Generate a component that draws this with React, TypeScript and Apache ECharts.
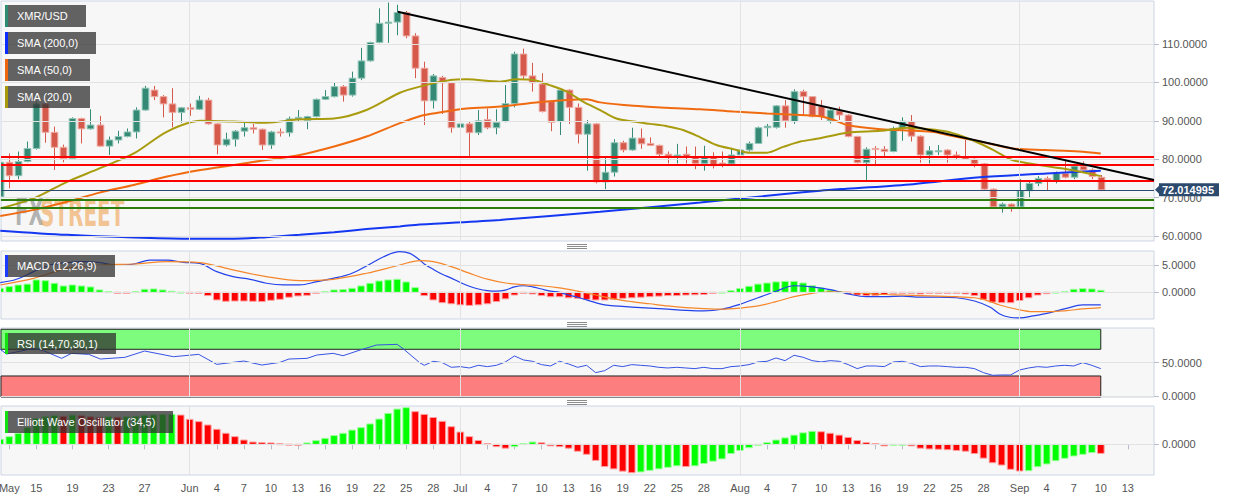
import React, { useEffect, useRef } from 'react';
import * as echarts from 'echarts';

// ---------- DATA (day index 0 = May 11) ----------
const OPEN = [70.2,79.2,75.7,79.4,82.8,94.4,87.0,83.1,80.2,90.6,87.9,88.9,83.4,85.0,85.9,87.1,92.8,98.0,96.3,94.4,92.2,93.4,93.0,95.4,89.2,83.7,85.2,87.3,88.2,87.8,83.7,87.1,86.9,90.5,90.1,91.1,95.6,96.3,98.9,96.7,101.1,105.6,110.4,115.4,115.7,118.2,112.1,103.7,95.2,101.3,99.9,88.3,89.2,86.9,90.3,88.2,89.8,94.5,107.4,101.7,99.6,95.0,89.8,98.0,93.5,86.5,89.2,74.1,76.6,84.3,82.4,85.5,84.1,83.6,81.3,80.9,81.3,80.7,78.9,80.7,79.0,78.8,81.1,82.4,84.1,88.2,88.3,93.9,89.8,97.6,96.3,93.7,90.0,92.6,91.5,85.9,79.1,82.8,82.6,82.0,88.0,89.8,86.0,81.1,82.0,82.4,81.1,80.5,80.0,78.8,72.2,67.6,68.3,67.6,71.8,73.7,75.0,74.4,76.3,75.3,78.2,77.2,75.3];
const HIGH = [79.5,81.5,82.0,84.6,95.0,95.0,88.5,83.8,90.9,90.8,93.0,91.3,85.9,87.4,88.0,93.5,99.1,99.1,96.7,98.5,93.6,94.5,96.5,96.0,89.4,86.9,87.6,89.5,89.2,88.0,87.4,88.0,91.1,92.8,91.3,95.8,98.0,100.0,99.3,102.8,109.0,110.6,119.3,120.8,120.2,118.6,112.8,105.4,102.2,101.7,100.0,95.2,89.7,92.8,93.2,93.0,99.3,108.0,108.8,105.1,102.4,95.2,98.5,98.2,94.5,90.2,89.4,80.5,85.2,84.8,88.2,88.0,85.7,83.8,82.0,84.0,83.3,83.3,83.5,81.8,82.0,82.8,83.0,84.6,88.5,89.2,94.1,95.4,98.2,98.1,96.4,95.4,93.2,93.7,91.7,86.1,83.1,83.4,83.4,88.5,90.9,91.5,86.2,83.4,83.7,82.6,82.0,85.0,80.2,79.0,72.4,68.7,68.5,74.8,74.4,75.6,75.5,76.8,79.8,78.8,79.4,77.6,75.9];
const LOW = [69.8,72.4,74.8,79.2,82.5,84.3,77.2,79.2,79.8,84.1,87.7,83.3,81.1,84.1,85.7,85.4,92.6,95.4,90.9,88.3,89.5,91.3,92.8,89.0,81.3,83.3,83.3,85.9,86.7,82.4,82.7,85.9,85.9,89.8,87.8,90.9,95.4,96.1,95.0,96.3,100.6,105.4,110.2,110.3,112.3,111.5,101.1,88.9,93.2,91.8,86.9,85.0,80.5,86.3,87.8,86.5,89.6,93.5,100.8,97.6,92.2,87.3,86.3,89.2,84.1,77.0,73.7,72.2,75.5,81.8,82.2,82.7,83.4,80.3,78.9,78.9,78.9,77.4,77.0,77.6,77.9,78.5,80.0,82.0,84.0,85.9,88.0,88.2,89.2,91.5,90.9,90.2,89.3,90.2,85.7,78.9,74.6,78.2,80.8,81.8,84.8,84.6,79.1,78.9,81.1,79.1,79.8,79.8,77.9,72.0,67.5,66.1,66.3,67.5,70.1,73.0,71.8,73.7,75.0,74.8,77.0,74.8,71.7];
const CLOSE = [79.2,75.7,79.4,82.8,94.4,87.0,83.1,80.2,90.6,87.9,88.9,83.4,85.0,85.9,87.1,92.8,98.5,96.3,94.4,92.2,93.4,93.0,95.4,89.2,83.7,85.2,87.3,88.2,87.8,83.7,87.1,86.9,90.5,90.9,91.1,95.6,96.3,98.9,96.7,101.1,105.6,110.4,115.4,115.7,118.2,112.1,103.7,95.2,101.7,99.9,88.2,89.2,86.9,90.0,88.2,89.6,94.5,107.4,101.7,99.9,92.4,89.6,98.0,93.5,86.5,89.2,74.1,76.6,84.3,82.4,85.5,84.0,83.6,81.3,80.8,81.1,80.7,78.9,80.7,78.3,78.6,81.1,82.4,84.1,88.2,88.6,93.9,90.0,97.6,96.3,91.1,91.1,92.8,91.5,85.9,79.1,82.6,82.5,82.0,88.0,89.9,86.0,81.1,82.2,82.2,81.1,80.5,80.0,78.8,72.2,67.6,68.3,67.6,71.8,73.7,75.0,74.6,76.3,75.3,78.2,77.2,75.5,72.014995];

const SMA20 = [[0,67.2],[3.7,69.8],[7.4,74.1],[11,77.6],[14.8,81.5],[18.5,87.2],[22.2,90.0],[25.9,89.8],[29.5,89.5],[33.2,90.4],[37,90.6],[40.6,92.8],[44.3,97.3],[46.5,98.9],[49.9,100.6],[51.7,100.8],[55.4,100.2],[57.2,100.8],[59.1,100.6],[60.9,99.3],[62.8,97.6],[64.6,95.0],[66.5,92.8],[68.3,90.6],[70.2,89.8],[72,89.2],[73.9,88.6],[75.7,87.6],[77.6,85.7],[79.4,83.7],[81.3,82.6],[83.1,81.7],[85,81.7],[86.8,83.2],[88.7,84.6],[90.5,85.3],[93.9,86.9],[97.6,87.4],[100.5,88.2],[103,87.8],[104.9,87.2],[106.7,85.9],[108.6,84.1],[110.4,82.0],[112.2,79.8],[114.1,78.9],[115.9,78.2],[117.8,77.6],[119.6,76.8],[122,75.6]];
const SMA50 = [[0,65.2],[3.7,66.8],[7.4,68.9],[11,71.3],[14.8,73.3],[18.5,75.5],[22.2,77.2],[25.9,78.5],[29.5,79.8],[33.2,81.1],[37,83.3],[40.6,85.9],[44.3,89.4],[46.5,91.2],[48,91.9],[51.7,93.2],[55.4,93.7],[59.1,94.7],[62.8,95.4],[65,95.6],[66.5,94.8],[70.2,93.9],[73.9,93.4],[77.6,93.0],[81.3,92.4],[85,91.9],[88.7,91.5],[90.9,91.2],[92.4,90.2],[93.9,88.9],[97.6,87.8],[101.3,87.4],[103.5,87.1],[105,86.3],[108.6,84.6],[112.2,82.8],[115.9,82.4],[119.6,82.0],[122,81.5]];
const SMA200 = [[0,61.4],[7.4,60.3],[14.8,59.6],[20.7,59.3],[25.9,59.3],[29.5,59.7],[33.2,60.3],[37,61.0],[40.6,61.8],[44.3,62.5],[46.5,63.0],[55.4,64.2],[66.5,66.3],[77.6,68.7],[86.4,70.8],[90.9,71.8],[93.8,72.3],[101.2,73.5],[108.6,75.3],[116,76.3],[122,77.0]];
const TREND = [[44.06,118.4],[127.9,74.58]];
const RESISTANCE = [80.66,78.58,74.41];
const SUPPORT = [69.46,67.38];

const MACD_HIST = [0.73,1.04,1.34,1.5,2.26,2.13,1.65,1.16,1.34,1.16,0.98,0.43,0.12,-0.02,-0.06,0.12,0.55,0.61,0.43,0.18,0.03,-0.1,-0.12,-0.6,-1.4,-1.65,-1.6,-1.6,-1.65,-1.7,-1.46,-1.28,-0.9,-0.67,-0.55,-0.06,0.12,0.43,0.49,0.73,1.16,1.65,2.07,2.26,2.38,1.89,0.85,-0.6,-1.4,-1.9,-2.1,-2.3,-2.4,-2.3,-2.1,-1.7,-1.2,-0.5,-0.2,-0.3,-0.6,-0.8,-0.8,-1.0,-1.1,-1.3,-1.4,-1.4,-1.3,-1.1,-1.0,-0.9,-0.8,-0.7,-0.6,-0.6,-0.5,-0.45,-0.4,-0.2,0.02,0.3,0.7,1.1,1.5,1.7,1.9,2.0,2.0,1.7,1.2,0.8,0.4,0.1,-0.3,-0.5,-0.6,-0.6,-0.4,-0.2,-0.2,-0.2,-0.3,-0.2,-0.2,-0.2,-0.2,-0.3,-0.6,-1.3,-1.8,-1.9,-1.9,-1.5,-1.0,-0.5,-0.25,0.03,0.12,0.55,0.67,0.61,0.37];
const MACD_LINE = [[0,1.77],[1.8,2.38],[3.7,3.78],[5.5,5.0],[7.4,5.43],[9.2,5.6],[11.1,5.43],[12.9,5.0],[14.8,5.18],[16.6,5.9],[18.5,5.9],[20.3,5.49],[22.1,5.3],[24,3.78],[25.8,2.87],[27.7,2.38],[29.5,1.65],[31.4,1.34],[33.2,1.34],[35.1,1.95],[36.9,2.56],[38.8,3.35],[40.6,4.82],[42.5,6.52],[44.3,7.44],[45.4,7.13],[46.5,5.9],[47,5.2],[48,4.2],[49,3.3],[50,2.6],[51,1.8],[52,1.1],[53,0.6],[54,0.3],[55,0.2],[56,0.4],[57,1.0],[58,1.2],[59,1.0],[60,0.6],[61,0.2],[62,0.0],[63,-0.5],[64,-0.9],[65,-1.4],[66,-1.9],[67,-2.3],[68,-2.5],[70,-2.7],[72,-2.9],[74,-3.1],[76,-3.3],[78,-3.4],[80,-3.1],[82,-2.2],[84,-1.0],[86,0.2],[88,1.2],[90,1.0],[92,0.5],[94,-0.3],[96,-0.8],[98,-0.8],[100,-0.7],[102,-0.9],[104,-0.9],[106,-1.0],[108,-1.6],[109.7,-2.7],[110.8,-3.96],[111.9,-4.57],[113,-4.7],[114.5,-4.33],[116.4,-3.72],[118.2,-2.93],[120,-2.32],[122,-2.32]];
const MACD_SIGNAL = [[0,1.34],[3.7,2.56],[7.4,4.39],[11.1,5.0],[14.8,5.18],[18.5,5.6],[22.1,5.43],[25.8,4.09],[29.5,2.87],[33.2,2.13],[36.9,2.38],[40.6,3.48],[44.3,5.0],[46.5,5.79],[48,5.6],[50,4.7],[52,3.5],[54,2.4],[56,1.7],[58,1.4],[60,1.2],[62,0.8],[64,0.2],[66,-0.5],[68,-1.2],[70,-1.7],[72,-2.1],[74,-2.5],[76,-2.8],[78,-3.0],[80,-3.1],[82,-2.9],[84,-2.5],[86,-1.7],[88,-0.8],[90,-0.2],[92,0.1],[94,0.0],[96,-0.2],[98,-0.4],[100,-0.5],[102,-0.6],[104,-0.7],[106,-0.8],[108,-1.0],[109,-1.3],[110.8,-2.32],[112.7,-3.11],[114.5,-3.54],[116.4,-3.54],[118.2,-3.35],[120,-3.05],[122,-2.8]];
const RSI = [[0,69.9],[0.7,62.9],[3.7,71.4],[4.8,67.9],[6.8,56.4],[7.9,63.9],[9.8,62.4],[11.1,55.4],[13.8,57.9],[16,67.4],[19.2,58.9],[22,62.4],[24,47.4],[27,52.4],[29,46.4],[31,50.4],[32,55.4],[34,56.4],[35.1,61.4],[36.9,63.9],[38,60.4],[39.9,68.9],[41.7,76.4],[44,77.4],[44.7,70.4],[46.5,49.9],[47,46],[48,52],[49,50],[50,43],[51,44],[52,42],[53,46],[54,44],[55,46],[56,51],[57,60],[58,54],[59,52],[60,47],[61,45],[62,52],[63,48],[64,43],[65,46],[66,35],[67,38],[68,46],[69,44],[70,47],[71,46],[72,45],[73,43],[74,42],[75,43],[76,42],[77,41],[78,43],[79,41],[80,41],[81,44],[82,45],[83,47],[84,51],[85,52],[86,57],[87,53],[88,61],[89,58],[90,53],[91,51],[92,53],[93,52],[94,47],[95,41],[96,45],[97,45],[98,44],[99,51],[100,52],[101,49],[102,44],[103,45],[104,45],[105,44],[106,43],[107,43],[108,41],[109,35],[110,31],[111,31.5],[112,31.5],[113,39],[114,42],[115,44],[116,43],[117,45],[118,46],[119,45],[120,50],[121,46],[122,41]];
const RSI_UPPER = 70;
const RSI_LOWER = 30;
const EWO = [3.3,5.0,7.2,10.9,17.0,18.0,18.9,18.3,19.1,18.7,18.0,17.6,18.0,17.7,18.0,18.4,19.0,19.3,19.5,19.6,19.1,16.3,14.8,12.6,9.8,7.2,5.0,2.8,1.5,1.1,0.9,0.4,0.1,-0.2,0.9,2.4,3.9,5.7,7.2,9.3,10.9,13.3,16.5,20.2,23.0,23.9,21.3,19.5,17.5,15.0,11.5,8.0,5.0,2.5,0.5,-1.5,-2.5,-1.5,0.5,1.5,1.0,-1.0,-1.5,-2.5,-4.5,-6.5,-10.5,-14.5,-16.0,-17.5,-18.5,-18.0,-17.0,-16.0,-15.0,-14.0,-14.5,-14.0,-12.5,-11.0,-9.5,-6.0,-4.0,-2.2,-0.5,1.2,2.8,4.2,6.0,7.5,8.5,8.2,7.2,6.0,4.5,2.5,1.2,0.5,-1.0,-0.5,-0.2,-1.0,-2.5,-3.0,-3.2,-3.5,-4.0,-4.5,-6.0,-9.0,-12.0,-13.5,-16.3,-17.4,-17.2,-14.6,-12.8,-10.7,-9.1,-7.6,-6.5,-5.4,-5.9];

const TICK_DAYS = [1,4,8,12,16,21,24,27,30,33,36,39,42,45,48,51,54,57,60,63,66,69,72,75,78,82,85,88,91,94,97,100,103,106,109,113,116,119,122,125];
const TICK_LABELS = ['May','15','19','23','27','Jun','4','7','10','13','16','19','22','25','28','Jul','4','7','10','13','16','19','22','25','28','Aug','4','7','10','13','16','19','22','25','28','Sep','4','7','10','13'];
const MONTH_START_DAYS = [21,51,82,113];
const PRICE_TICKS = [60,70,80,90,100,110];
const MACD_TICKS = [0,5];
const RSI_TICKS = [0,50];
const EWO_TICKS = [0];

// ---------- STYLE ----------
const FONT = "'Liberation Sans', Arial, Helvetica, sans-serif";
const X_MIN = 0.08;
const X_MAX = 127.9;
const UP = '#348a74';
const UP_EDGE = '#93c6b8';
const DOWN = '#d65a4b';
const DOWN_EDGE = '#eeaaa2';
const GRID_LINE = '#e2e2e2';

function buildOption() {
  const gridBase = {
    show: true, backgroundColor: '#f7f7f7', borderColor: '#ccd4e3', borderWidth: 1,
    left: 1, width: 1153, containLabel: false, outerBoundsMode: 'none',
  };
  const grids = [
    { ...gridBase, top: 1, height: 240 },
    { ...gridBase, top: 251, height: 68 },
    { ...gridBase, top: 328, height: 69 },
    { ...gridBase, top: 406, height: 69 },
  ];
  const xAxes = grids.map((_, i) => ({
    type: 'value', gridIndex: i, min: X_MIN, max: X_MAX,
    axisLine: { show: false },
    axisTick: { show: i === 3, customValues: TICK_DAYS, length: 5, lineStyle: { color: '#b5bccb' } },
    axisLabel: {
      show: i === 3, customValues: TICK_DAYS, margin: 7, color: '#555', fontSize: 11, fontFamily: FONT,
      formatter: (v: number) => { const k = TICK_DAYS.indexOf(Math.round(v)); return k >= 0 ? TICK_LABELS[k] : ''; },
    },
    splitLine: { show: false },
  }));
  const yDefs = [
    { min: 58.7, max: 121.2, ticks: PRICE_TICKS },
    { min: -4.89, max: 7.56, ticks: MACD_TICKS },
    { min: -1.5, max: 101.9, ticks: RSI_TICKS },
    { min: -20, max: 25, ticks: EWO_TICKS },
  ];
  const yAxes = yDefs.map((d, i) => ({
    type: 'value', gridIndex: i, position: 'right', min: d.min, max: d.max,
    axisLine: { show: false },
    axisTick: { show: true, customValues: d.ticks, length: 5, lineStyle: { color: '#b5bccb' } },
    axisLabel: { customValues: d.ticks, color: '#555', fontSize: 11, fontFamily: FONT, margin: 8, formatter: (v: number) => v.toFixed(4) },
    splitLine: { show: false },
  }));

  const gridSeries = yDefs.map((d, i) => ({
    type: 'line', xAxisIndex: i, yAxisIndex: i, data: [], z: 1, silent: true,
    markLine: {
      silent: true, symbol: ['none', 'none'], animation: false, label: { show: false },
      lineStyle: { color: GRID_LINE, width: 1, type: 'solid' },
      data: [...d.ticks.map((v) => ({ yAxis: v })), ...MONTH_START_DAYS.map((x) => ({ xAxis: x }))],
    },
  }));

  const last = CLOSE.length - 1;
  const candleData = OPEN.map((o, i) => [i, o, CLOSE[i], LOW[i], HIGH[i]]);

  const barRender = (values: number[], mode: 'sign' | 'trend') => (params: any, api: any) => {
    const d = api.value(0);
    const v = api.value(1);
    const idx = params.dataIndex;
    const up = mode === 'sign' ? v >= 0 : idx === 0 || v >= values[idx - 1];
    const p0 = api.coord([d, 0]);
    const p1 = api.coord([d, v]);
    const w = api.size([1, 0])[0] * 0.74;
    return {
      type: 'rect',
      shape: { x: p0[0] - w / 2, y: Math.min(p0[1], p1[1]), width: w, height: Math.max(Math.abs(p1[1] - p0[1]), 1) },
      style: { fill: up ? '#00ff00' : '#ff0000', stroke: up ? '#9dff9d' : '#ff9f9f', lineWidth: 1 },
    };
  };

  const series: any[] = [
    ...gridSeries,
    {
      type: 'line', xAxisIndex: 2, yAxisIndex: 2, data: [], z: 2, silent: true,
      markArea: {
        silent: true, animation: false, label: { show: false },
        data: [
          [{ xAxis: X_MIN, yAxis: RSI_UPPER, itemStyle: { color: '#7dfc7d', borderColor: '#222', borderWidth: 1 } }, { xAxis: last, yAxis: 100 }],
          [{ xAxis: X_MIN, yAxis: RSI_LOWER, itemStyle: { color: '#fc7e7e', borderColor: '#222', borderWidth: 1 } }, { xAxis: last, yAxis: -1.5 }],
        ],
      },
    },
    {
      type: 'custom', name: 'XMR/USD', xAxisIndex: 0, yAxisIndex: 0, z: 3, clip: true,
      data: candleData, encode: { x: 0, y: [1, 2, 3, 4] },
      renderItem: (params: any, api: any) => {
        const d = api.value(0), o = api.value(1), c = api.value(2), l = api.value(3), h = api.value(4);
        const pO = api.coord([d, o]);
        const pC = api.coord([d, c]);
        const pL = api.coord([d, l]);
        const pH = api.coord([d, h]);
        const w = api.size([1, 0])[0] * 0.74;
        const up = c >= o;
        const xm = Math.round(pO[0]) + 0.5;
        return {
          type: 'group',
          children: [
            { type: 'line', shape: { x1: xm, y1: pH[1], x2: xm, y2: pL[1] }, style: { stroke: up ? UP : DOWN, lineWidth: 1 } },
            { type: 'rect', shape: { x: xm - w / 2, y: Math.min(pO[1], pC[1]), width: w, height: Math.max(Math.abs(pO[1] - pC[1]), 1) },
              style: { fill: up ? UP : DOWN, stroke: up ? UP_EDGE : DOWN_EDGE, lineWidth: 1 } },
          ],
        };
      },
      markLine: {
        silent: true, symbol: ['none', 'none'], animation: false, label: { show: false },
        lineStyle: { color: '#2c4a6e', width: 1, type: 'solid' },
        data: [{ yAxis: CLOSE[last] }],
      },
    },
    { type: 'line', name: 'SMA (200,0)', data: SMA200, xAxisIndex: 0, yAxisIndex: 0, z: 4, showSymbol: false, smooth: 0.3, lineStyle: { color: '#1437f2', width: 2 } },
    { type: 'line', name: 'SMA (50,0)', data: SMA50, xAxisIndex: 0, yAxisIndex: 0, z: 4, showSymbol: false, smooth: 0.3, lineStyle: { color: '#f06a10', width: 2 } },
    { type: 'line', name: 'SMA (20,0)', data: SMA20, xAxisIndex: 0, yAxisIndex: 0, z: 4, showSymbol: false, smooth: 0.3, lineStyle: { color: '#a99b0e', width: 2 } },
    {
      type: 'line', xAxisIndex: 0, yAxisIndex: 0, data: [], z: 5, silent: true,
      markLine: {
        silent: true, symbol: ['none', 'none'], animation: false, label: { show: false },
        data: [
          ...RESISTANCE.map((v) => ({ yAxis: v, lineStyle: { color: '#ff0000', width: 2, type: 'solid' } })),
          ...SUPPORT.map((v) => ({ yAxis: v, lineStyle: { color: '#2b7d0c', width: 2, type: 'solid' } })),
        ],
      },
    },
    { type: 'line', data: TREND, xAxisIndex: 0, yAxisIndex: 0, z: 6, showSymbol: false, lineStyle: { color: '#000', width: 2 } },

    { type: 'custom', name: 'MACD hist', xAxisIndex: 1, yAxisIndex: 1, z: 3, clip: true,
      data: MACD_HIST.map((v, i) => [i, v]), encode: { x: 0, y: 1 }, renderItem: barRender(MACD_HIST, 'sign') },
    { type: 'line', name: 'MACD', data: MACD_LINE, xAxisIndex: 1, yAxisIndex: 1, z: 4, showSymbol: false, smooth: 0.35, lineStyle: { color: '#2442ea', width: 1.2 } },
    { type: 'line', name: 'Signal', data: MACD_SIGNAL, xAxisIndex: 1, yAxisIndex: 1, z: 4, showSymbol: false, smooth: 0.35, lineStyle: { color: '#f5862a', width: 1.2 } },

    { type: 'line', name: 'RSI', data: RSI, xAxisIndex: 2, yAxisIndex: 2, z: 4, showSymbol: false, lineStyle: { color: '#3552e4', width: 1 } },

    { type: 'custom', name: 'EWO', xAxisIndex: 3, yAxisIndex: 3, z: 3, clip: true,
      data: EWO.map((v, i) => [i, v]), encode: { x: 0, y: 1 }, renderItem: barRender(EWO, 'trend') },
  ];

  return {
    animation: false,
    backgroundColor: '#ffffff',
    grid: grids,
    xAxis: xAxes,
    yAxis: yAxes,
    series,
  };
}

function buildGraphics(priceY: number, lastText: string) {
  const legend = (y: number, w: number, h: number, label: string, strip: string) => [
    { type: 'rect', shape: { x: 5, y, width: w, height: h }, style: { fill: 'rgba(48,48,48,0.75)' }, z: 100 },
    { type: 'rect', shape: { x: 5, y, width: 3, height: h }, style: { fill: strip }, z: 101 },
    { type: 'text', x: 17, y: y + h / 2, style: { text: label, fill: '#ffffff', font: `11px ${FONT}`, verticalAlign: 'middle' }, z: 101 },
  ];
  const divider = (y: number) => [0, 2, 4].map((k) => ({
    type: 'line', shape: { x1: 567, y1: y + k + 0.5, x2: 587, y2: y + k + 0.5 }, style: { stroke: '#8c8c8c', lineWidth: 1 }, z: 100,
  }));
  return [
    { type: 'text', x: 15, y: 194, scaleX: 0.53, style: { text: 'FX', fill: 'rgba(120,120,120,0.55)', font: `bold 37px 'DejaVu Sans', ${FONT}`, verticalAlign: 'top' }, z: 1 },
    { type: 'text', x: 40, y: 194, scaleX: 0.54, style: { text: 'STREET', fill: 'rgba(240,160,80,0.6)', font: `bold 37px 'DejaVu Sans', ${FONT}`, verticalAlign: 'top' }, z: 1 },
    ...legend(5, 81, 22, 'XMR/USD', '#2e8a73'),
    ...legend(32, 91, 22, 'SMA (200,0)', '#0b2cff'),
    ...legend(59, 85, 22, 'SMA (50,0)', '#ee6610'),
    ...legend(86, 85, 22, 'SMA (20,0)', '#a8990a'),
    ...legend(255, 110, 22, 'MACD (12,26,9)', '#1a3cff'),
    ...legend(333, 111, 21, 'RSI (14,70,30,1)', '#12e012'),
    ...legend(411, 168, 22, 'Elliott Wave Oscillator (34,5)', '#12e012'),
    ...divider(244),
    ...divider(322),
    ...divider(400),
    {
      type: 'polygon', z: 100,
      shape: { points: [[1155, priceY], [1159, priceY - 4], [1159, priceY - 6.5], [1219, priceY - 6.5], [1219, priceY + 6.5], [1159, priceY + 6.5], [1159, priceY + 4]] },
      style: { fill: '#2c4a6e' },
    },
    { type: 'text', x: 1162, y: priceY, z: 101, style: { text: lastText, fill: '#ffffff', font: `bold 11px ${FONT}`, verticalAlign: 'middle' } },
  ];
}

export default function App() {
  const ref = useRef<HTMLDivElement>(null);
  useEffect(() => {
    document.body.style.margin = '0';
    const chart = echarts.init(ref.current as HTMLDivElement, null, { renderer: 'svg' });
    chart.setOption(buildOption() as any);
    const lastClose = CLOSE[CLOSE.length - 1];
    const py = chart.convertToPixel({ yAxisIndex: 0 }, lastClose) as unknown as number;
    chart.setOption({ graphic: { elements: buildGraphics(py, lastClose.toFixed(6)) } } as any);
    return () => chart.dispose();
  }, []);
  return <div ref={ref} style={{ width: 1244, height: 501 }} />;
}
